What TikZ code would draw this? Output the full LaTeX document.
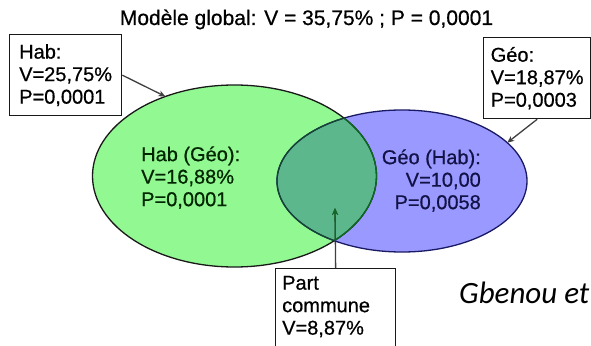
\documentclass[tikz,border=0pt]{standalone}
\usepackage{fontspec}
\setmainfont{Liberation Sans}[FakeBold=0.6]
\newfontfamily\calibri{Carlito}
\usetikzlibrary{shapes.geometric,arrows.meta}
\definecolor{habgreen}{RGB}{146,248,146}
\definecolor{geoblue}{RGB}{153,153,255}
\definecolor{overlapc}{RGB}{92,184,140}
\definecolor{darkgreen}{RGB}{15,105,35}
\definecolor{navyc}{RGB}{25,25,100}
\definecolor{mixline}{RGB}{20,70,50}
\begin{document}
\begin{tikzpicture}[x=1pt,y=-1pt,
  lbl/.style={font=\fontsize{20}{22.5}\selectfont, inner sep=0pt},
  boxc/.style={draw=black!90, line width=1.3pt, fill=white, align=left, inner sep=0pt, lbl},
  con/.style={line width=1.3pt, draw=black!75, -{Stealth[length=7pt,width=6pt]}},
  venn/.style={ellipse, inner sep=0pt, outer sep=0pt}]
\useasboundingbox (0,0) rectangle (591,345);
\fill[white] (0,0) rectangle (591,345);
% title
\node[font=\fontsize{21}{25}\selectfont, anchor=base, inner sep=0pt] (title) at (306.5,25) {Modèle global: V = 35,75\% ; P = 0,0001};
% ellipses
\node[venn, minimum width=250pt, minimum height=142pt, fill=geoblue] (geo) at (402,181) {};
\node[venn, minimum width=284pt, minimum height=182pt, fill=habgreen] (hab) at (234.5,176) {};
\begin{scope}
  \clip (234.5,176) ellipse [x radius=142pt, y radius=91pt];
  \fill[overlapc] (402,181) ellipse [x radius=125pt, y radius=71pt];
\end{scope}
% part commune box and arrow
\node[boxc, anchor=north west, minimum width=120pt, minimum height=95pt] (pc) at (275,268) {};
\node[lbl, anchor=north west, align=left] (pctext) at (282,275.7) {Part\\commune\\V=8,87\%};
\coordinate (pcend) at (335,208);
\draw[con] (pc.north) -- (pcend);
\begin{scope}
  \clip (234.5,176) ellipse [x radius=142pt, y radius=91pt];
  \draw[con, draw=darkgreen] (pc.north) -- (pcend);
\end{scope}
% outlines
\draw[line width=1.3pt, navyc] (402,181) ellipse [x radius=125pt, y radius=71pt];
\draw[line width=1.3pt, black!90] (234.5,176) ellipse [x radius=142pt, y radius=91pt];
\begin{scope}
  \clip (402,181) ellipse [x radius=125pt, y radius=71pt];
  \draw[line width=1.3pt, darkgreen] (234.5,176) ellipse [x radius=142pt, y radius=91pt];
\end{scope}
\begin{scope}
  \clip (234.5,176) ellipse [x radius=142pt, y radius=91pt];
  \draw[line width=1.3pt, mixline] (402,181) ellipse [x radius=125pt, y radius=71pt];
\end{scope}
% ellipse texts
\node[lbl, anchor=north west, align=left, text=black!85!green] (habtxt) at (141,146.2) {Hab (Géo):\\V=16,88\%\\P=0,0001};
\node[lbl, anchor=north east, align=right, text=navyc!70!black] (geotxt) at (481,149.2) {Géo (Hab):\\V=10,00\\P=0,0058};
% boxes
\node[boxc, anchor=north west, minimum width=112pt, minimum height=81pt] (habbox) at (9,34) {Hab:\\V=25,75\%\\P=0,0001};
\node[boxc, anchor=north west, minimum width=107pt, minimum height=81pt] (geobox) at (483,37) {Géo:\\V=18,87\%\\P=0,0003};
\draw[con] (habbox.east) -- (hab.131);
\draw[con] (geobox.south) -- (geo.20);
% reference
\node[font=\calibri\itshape\fontsize{31}{36}\selectfont, anchor=base west, inner sep=0pt] (ref) at (459,303) {Gbenou et};
\end{tikzpicture}
\end{document}
